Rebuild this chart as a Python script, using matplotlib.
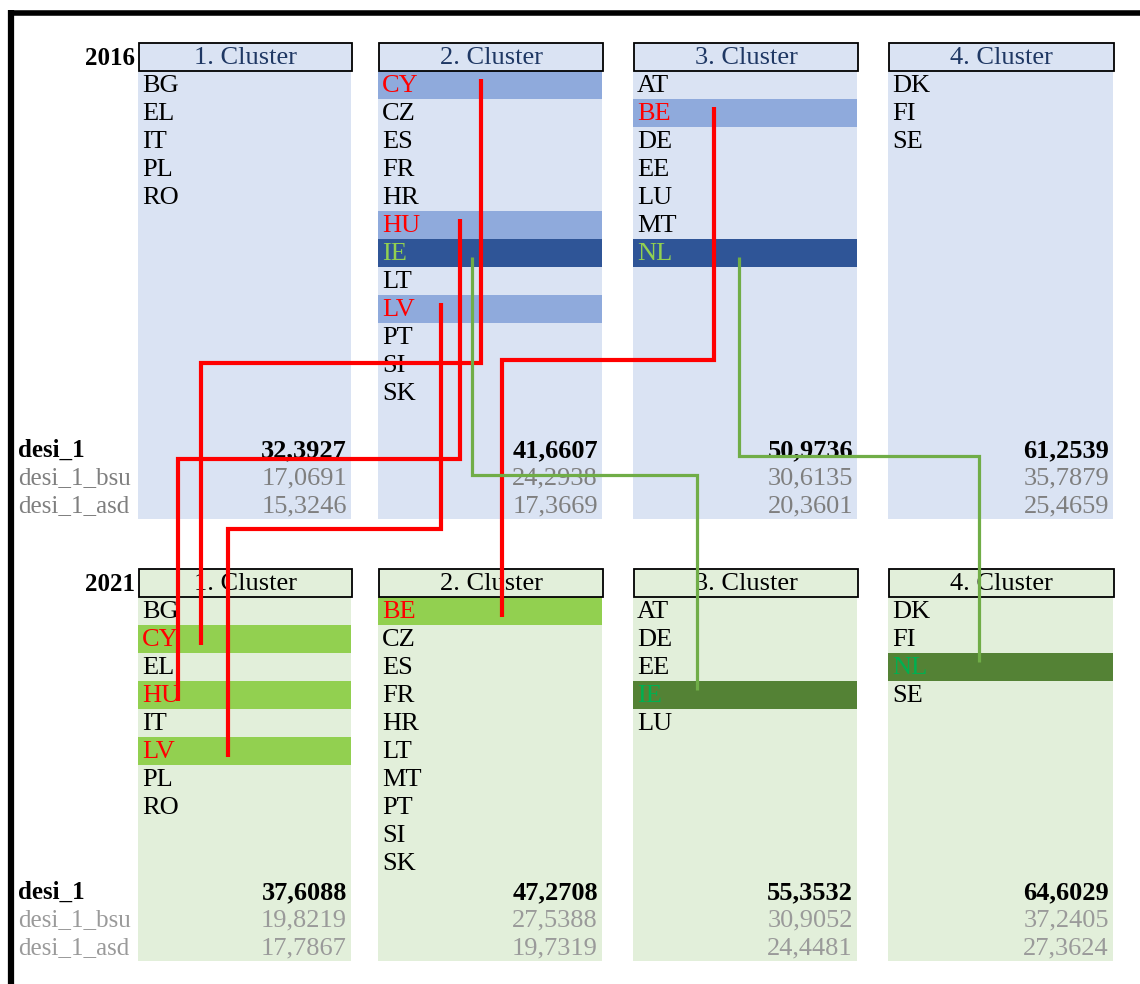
import matplotlib.pyplot as plt
from matplotlib.patches import Rectangle

plt.rcParams['font.family'] = ['Liberation Serif', 'DejaVu Serif']

# --- data ---
cluster_names = ["1. Cluster", "2. Cluster", "3. Cluster", "4. Cluster"]
years = ["2016", "2021"]

clusters_2016 = [["BG", "EL", "IT", "PL", "RO"],
                 ["CY", "CZ", "ES", "FR", "HR", "HU", "IE", "LT", "LV", "PT", "SI", "SK"],
                 ["AT", "BE", "DE", "EE", "LU", "MT", "NL"],
                 ["DK", "FI", "SE"]]
clusters_2021 = [["BG", "CY", "EL", "HU", "IT", "LV", "PL", "RO"],
                 ["BE", "CZ", "ES", "FR", "HR", "LT", "MT", "PT", "SI", "SK"],
                 ["AT", "DE", "EE", "IE", "LU"],
                 ["DK", "FI", "NL", "SE"]]

stat_labels = ["desi_1", "desi_1_bsu", "desi_1_asd"]
desi_2016 = [32.3927, 41.6607, 50.9736, 61.2539]
bsu_2016 = [17.0691, 24.2938, 30.6135, 35.7879]
asd_2016 = [15.3246, 17.3669, 20.3601, 25.4659]
desi_2021 = [37.6088, 47.2708, 55.3532, 64.6029]
bsu_2021 = [19.8219, 27.5388, 30.9052, 37.2405]
asd_2021 = [17.7867, 19.7319, 24.4481, 27.3624]

moved_down = ["CY", "HU", "LV", "BE"]   # into a lower cluster
moved_up = ["IE", "NL"]                 # into a higher cluster

# --- layout ---
col_x = [(138, 351), (378, 602), (633, 857), (888, 1113)]
row_h = 28
FS = 19
FS_LAB = 18

panels = [
    dict(year=years[0], clusters=clusters_2016, stats=[desi_2016, bsu_2016, asd_2016],
         head_top=43, stat_row=13, body="#dae3f3", head_txt="#1f3864",
         hl_down="#8faadc", hl_up="#2f5597", txt_up="#92d050", gray="#7f7f7f"),
    dict(year=years[1], clusters=clusters_2021, stats=[desi_2021, bsu_2021, asd_2021],
         head_top=569, stat_row=10, body="#e2efda", head_txt="#000000",
         hl_down="#92d050", hl_up="#548235", txt_up="#00b050", gray="#9a9a9a"),
]

# connector routes: x offset in source column, elbow y, x offset in target column
routes = {"CY": (103, 363, 63), "HU": (82, 459, 40), "LV": (63, 529, 90),
          "BE": (81, 360, 124), "IE": (94, 475, 64), "NL": (106, 456, 91)}

fig = plt.figure(figsize=(11.4, 9.84), dpi=100)
ax = fig.add_axes([0, 0, 1, 1])
ax.set_xlim(0, 1140)
ax.set_ylim(984, 0)
ax.axis('off')

# frame
ax.plot([8, 1140], [12.5, 12.5], color='black', lw=4, solid_capstyle='butt')
ax.plot([10.5, 10.5], [10, 984], color='black', lw=4.5, solid_capstyle='butt')


def fmt(v):
    return f"{v:.4f}".replace(".", ",")


positions = []
for p in panels:
    top = p['head_top'] + row_h
    pos = {}
    for c, (x0, x1) in enumerate(col_x):
        n_rows = p['stat_row'] + 3
        ax.add_patch(Rectangle((x0, top), x1 - x0, n_rows * row_h,
                               facecolor=p['body'], edgecolor='none', zorder=1))
        ax.add_patch(Rectangle((x0 + 1, p['head_top']), x1 - x0, row_h,
                               facecolor=p['body'], edgecolor='black', lw=1.3, zorder=3))
        ax.text((x0 + x1) / 2 + 1, p['head_top'] + row_h / 2 + 1.5, cluster_names[c],
                ha='center', va='center', fontsize=FS, color=p['head_txt'], zorder=4)
        for i, country in enumerate(p['clusters'][c]):
            y0 = top + i * row_h
            color = 'black'
            if country in moved_down:
                ax.add_patch(Rectangle((x0, y0), x1 - x0, row_h, facecolor=p['hl_down'],
                                       edgecolor='none', zorder=2))
                color = '#ff0000'
            elif country in moved_up:
                ax.add_patch(Rectangle((x0, y0), x1 - x0, row_h, facecolor=p['hl_up'],
                                       edgecolor='none', zorder=2))
                color = p['txt_up']
            ax.text(x0 + 4, y0 + row_h / 2 + 1.5, country, ha='left', va='center',
                    fontsize=FS, color=color, zorder=4)
            pos[country] = (c, y0 + row_h / 2)
        for k, vals in enumerate(p['stats']):
            y = top + (p['stat_row'] + k) * row_h + row_h / 2 + 1.5
            ax.text(x1 - 4, y, fmt(vals[c]), ha='right', va='center', fontsize=FS,
                    color='black' if k == 0 else p['gray'],
                    fontweight='bold' if k == 0 else 'normal', zorder=4)
    for k, lab in enumerate(stat_labels):
        y = top + (p['stat_row'] + k) * row_h + row_h / 2 + 1.5
        ax.text(18, y, lab, ha='left', va='center', fontsize=FS_LAB,
                color='black' if k == 0 else p['gray'],
                fontweight='bold' if k == 0 else 'normal', zorder=4)
    ax.text(135, p['head_top'] + row_h / 2 + 1.5, p['year'], ha='right', va='center',
            fontsize=FS_LAB, fontweight='bold', zorder=4)
    positions.append(pos)

# connectors
for country, (sx, ymid, dx) in routes.items():
    c0, y0 = positions[0][country]
    c1, y1 = positions[1][country]
    xa = col_x[c0][0] + sx
    xb = col_x[c1][0] + dx
    if country in moved_down:
        color, lw = '#ff0000', 3.0
        ya, yb = y0 - 6, y1 + 6
    else:
        color, lw = '#70ad47', 2.3
        ya, yb = y0 + 4, y1 - 5
    ax.plot([xa, xa, xb, xb], [ya, ymid, ymid, yb], color=color, lw=lw,
            solid_joinstyle='miter', solid_capstyle='butt', zorder=6)

fig.savefig("out.png", dpi=100)
